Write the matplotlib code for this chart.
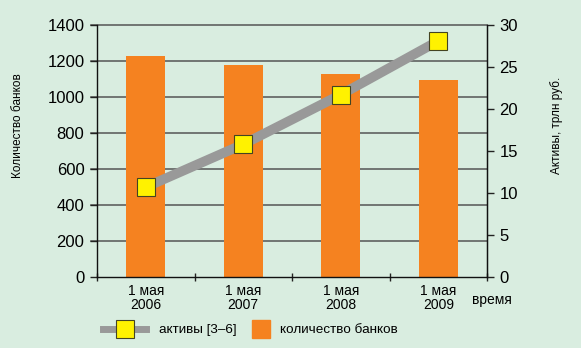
import numpy as np
import matplotlib.pyplot as plt
from matplotlib.lines import Line2D

plt.rcParams['font.family'] = ['Liberation Sans', 'DejaVu Sans']

# data
dates = ['1 мая\n2006', '1 мая\n2007', '1 мая\n2008', '1 мая\n2009']
n_banks = [1228, 1180, 1130, 1094]
assets = [10.7, 15.8, 21.7, 28.1]   # трлн руб.

bg = '#d9ede0'
bar_color = '#f58220'
line_color = '#999999'
marker_color = '#fff200'

W, H = 581, 348
fig = plt.figure(figsize=(W/100, H/100), dpi=100, facecolor=bg)
ax = fig.add_axes([97/W, 1-277/H, 390/W, 252/H])
ax.set_facecolor(bg)

x = np.arange(len(dates))
ax.bar(x, n_banks, width=0.4, color=bar_color, zorder=2)
ax.set_xlim(-0.5, len(dates)-0.5)
ax.set_ylim(0, 1400)
ax.set_yticks(np.arange(0, 1401, 200))
for v in np.arange(200, 1401, 200):
    ax.axhline(v, color='#555555', lw=1.1, zorder=1, xmin=-0.015, xmax=1, clip_on=False)
ax.tick_params(axis='y', labelsize=12, length=5, width=1, color='#222222', pad=4)
ax.set_xticks(x)
ax.set_xticklabels(dates, fontsize=10, linespacing=1.05)
ax.tick_params(axis='x', length=0, pad=5)
ax.set_xticks(np.arange(-0.5, len(dates), 1), minor=True)
ax.tick_params(axis='x', which='minor', length=6, width=1, color='#222222', direction='inout')
ax.spines['top'].set_visible(False)
for s in ['left', 'right', 'bottom']:
    ax.spines[s].set_color('#111111')
    ax.spines[s].set_linewidth(1)

ax2 = ax.twinx()
ax2.set_ylim(0, 30)
ax2.set_yticks(np.arange(0, 31, 5))
ax2.tick_params(axis='y', labelsize=12, length=5, width=1, color='#222222', pad=4)
for s in ['top', 'left', 'bottom']:
    ax2.spines[s].set_visible(False)
ax2.spines['right'].set_color('#111111')
ax2.plot(x, assets, color=line_color, lw=7, solid_capstyle='butt', zorder=3)
ax2.plot(x, assets, ls='none', marker='s', markersize=13, markerfacecolor=marker_color,
         markeredgecolor='#444422', markeredgewidth=0.8, zorder=4)

# axis titles
fig.text(18/W, 1-126/H, 'Количество банков', rotation=90, fontsize=8.5,
         family=['Liberation Sans Narrow', 'Liberation Sans'], ha='center', va='center')
fig.text(557/W, 1-125/H, 'Активы, трлн руб.', rotation=90, fontsize=8.5,
         family=['Liberation Sans Narrow', 'Liberation Sans'], ha='center', va='center')
fig.text(472/W, 1-300/H, 'время', fontsize=10, va='center', ha='left')

# legend: two parts so each handle gets its own width
h_assets = Line2D([0], [0], color=line_color, lw=5, marker='s', markersize=13,
                  markerfacecolor=marker_color, markeredgecolor='#444422', markeredgewidth=0.8)
h_banks = Line2D([0], [0], ls='none', marker='s', markersize=13,
                 markerfacecolor=bar_color, markeredgecolor=bar_color)
fig.legend([h_assets], ['активы [3–6]'], loc='center left',
           bbox_to_anchor=(91/W, 1-330/H), frameon=False, fontsize=9.7,
           handlelength=3.2, handletextpad=0.95)
fig.legend([h_banks], ['количество банков'], loc='center left',
           bbox_to_anchor=(239/W, 1-330/H), frameon=False, fontsize=9.7,
           handlelength=1.4, handletextpad=0.75)

fig.savefig('out.png', dpi=100, facecolor=bg)
